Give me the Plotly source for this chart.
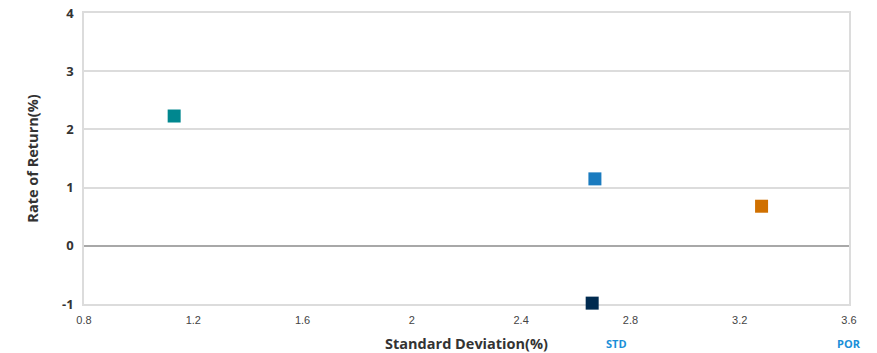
"""
Risk / return scatter: standard deviation vs rate of return.
"""

import plotly.graph_objects as go

# ── Data ──────────────────────────────────────────────────────────────────────

std_dev = [1.13, 2.67, 3.28, 2.66]
returns = [2.23, 1.15, 0.68, -0.985]
colors = ["#00878f", "#1a7bbf", "#d07000", "#002b50"]

x_ticks = [0.8, 1.2, 1.6, 2, 2.4, 2.8, 3.2, 3.6]
x_tick_text = ["0.8", "1.2", "1.6", "2", "2.4", "2.8", "3.2", "3.6"]
y_ticks = [-1, 0, 1, 2, 3, 4]
y_tick_text = ["-1", "0", "1", "2", "3", "4"]

legend_labels = ["STD", "POR"]

# ── Theme ─────────────────────────────────────────────────────────────────────

_GRID = "#dcdcdc"
_ZERO = "#a8a8a8"
_TEXT = "#333333"
_FONT = "'Open Sans', sans-serif"

fig = go.Figure()

fig.add_trace(
    go.Scatter(
        x=std_dev,
        y=returns,
        mode="markers",
        marker=dict(symbol="square", size=13, color=colors, line=dict(width=0)),
        cliponaxis=False,
        showlegend=False,
        hoverinfo="x+y",
    )
)

# legend labels sitting on the bottom edge
for lbl, xp in zip(legend_labels, [0.68, 0.982]):
    fig.add_annotation(
        text=f"<b>{lbl}</b>",
        xref="paper", yref="paper",
        x=xp, y=-0.168,
        xanchor="left", yanchor="bottom",
        showarrow=False,
        font=dict(size=11, color="#1a8fd8", family=_FONT),
    )

fig.update_layout(
    width=877,
    height=353,
    plot_bgcolor="white",
    paper_bgcolor="white",
    margin=dict(l=84, r=28, t=13, b=49),
    font=dict(family=_FONT, color=_TEXT),
    xaxis=dict(
        range=[0.8, 3.6],
        tickvals=x_ticks,
        ticktext=x_tick_text,
        tickfont=dict(size=11, color="#444444", family="'Liberation Sans', Arial"),
        showgrid=False,
        zeroline=False,
        showline=True,
        linecolor=_GRID,
        linewidth=1.5,
        mirror=True,
        ticks="",
        ticklabelstandoff=5,
        automargin=False,
        layer="below traces",
        title=dict(
            text="<b>Standard Deviation(%)</b>",
            font=dict(size=14.5, color=_TEXT),
            standoff=14,
        ),
    ),
    yaxis=dict(
        range=[-1, 4],
        tickvals=y_ticks,
        ticktext=y_tick_text,
        tickfont=dict(size=13, color=_TEXT, weight="bold"),
        showgrid=True,
        gridcolor=_GRID,
        gridwidth=1.5,
        zeroline=True,
        zerolinecolor=_ZERO,
        zerolinewidth=1.5,
        showline=True,
        linecolor=_GRID,
        linewidth=1.5,
        mirror=True,
        ticks="",
        ticklabelstandoff=6,
        automargin=False,
        layer="below traces",
        title=dict(
            text="<b>Rate of Return(%)</b>",
            font=dict(size=14.5, color=_TEXT),
            standoff=20,
        ),
    ),
)

# drop the default page margin so the figure sits at the window's corner
fig.write_html(
    "out.html",
    config={"displayModeBar": False},
    post_script="document.body.style.margin='0';",
)
